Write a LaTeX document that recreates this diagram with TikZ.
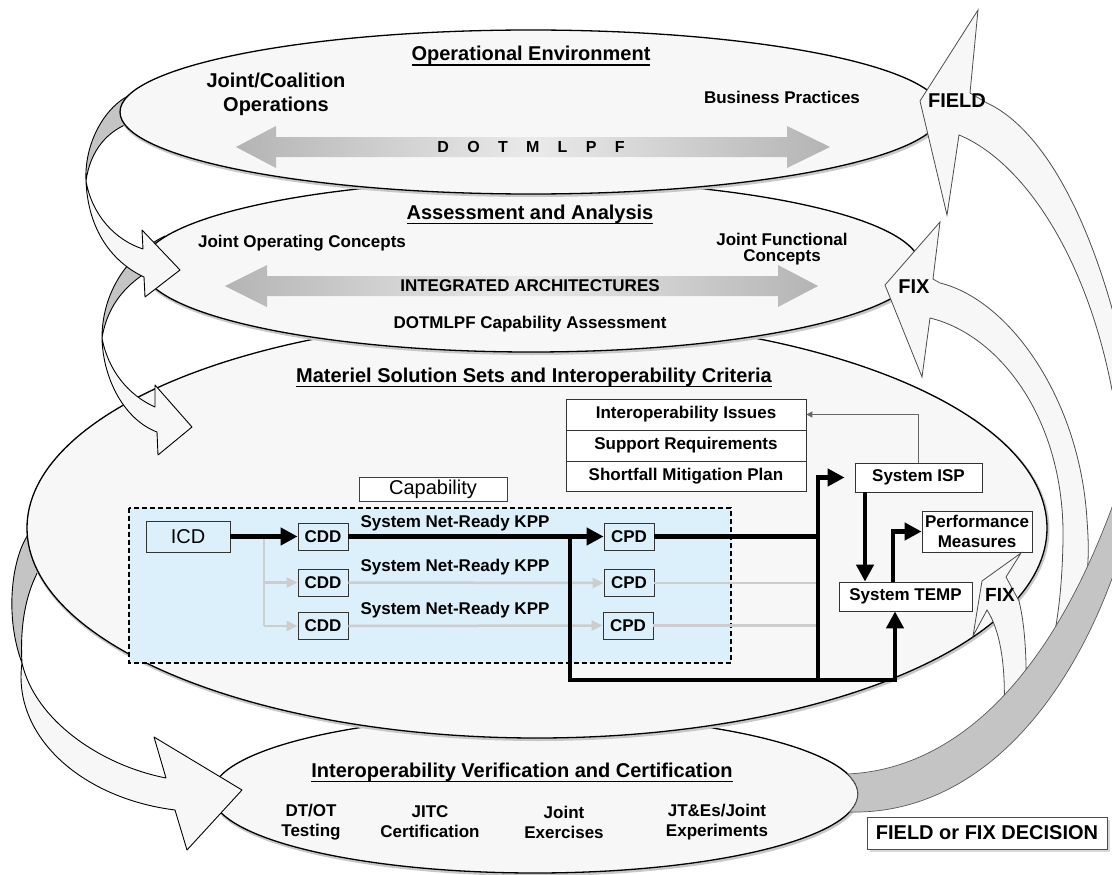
\documentclass[tikz,border=0pt]{standalone}
\usepackage{fontspec}
\setmainfont{Liberation Sans}
\usetikzlibrary{arrows.meta,shadows}
\definecolor{ellfill}{RGB}{247,247,247}
\definecolor{capblue}{RGB}{220,240,252}
\definecolor{backgray}{RGB}{196,196,196}
\definecolor{arrgray}{RGB}{180,180,180}
\definecolor{arrmid}{RGB}{234,234,234}
\definecolor{flowgray}{RGB}{205,205,205}
\definecolor{halo}{RGB}{200,200,200}
\newcommand\myul[1]{\setbox0=\hbox{#1}\rlap{\rule[-5pt]{\wd0}{1.5pt}}\box0}
\begin{document}
\begin{tikzpicture}[x=1pt,y=-1pt,
  ell/.style={fill=ellfill, draw=black, line width=1.3pt},
  ellhalo/.style={draw=halo, line width=3pt},
  ribbon/.style={fill=ellfill, draw=black, line width=0.9pt, line join=round},
  ribback/.style={fill=backgray, draw=black, line width=0.9pt, line join=round},
  rarrow/.style={fill=ellfill, draw=black!70, line width=0.8pt},
  bandstyle/.style={fill=backgray, draw=black!65, line width=0.7pt},
  dbarrow/.style={left color=arrgray, right color=arrgray, middle color=arrmid},
  ttl/.style={font=\bfseries\fontsize{20}{24}\selectfont, inner sep=0pt, align=center},
  lbl/.style={font=\bfseries\fontsize{17}{20}\selectfont, inner sep=0pt, align=center},
  plainbox/.style={draw=black!75, fill=white, line width=0.8pt, inner sep=0pt, font=\fontsize{20}{22}\selectfont},
  docbox/.style={draw=black!80, fill=capblue, line width=0.8pt, inner sep=0pt, minimum width=50pt, minimum height=27pt, font=\bfseries\fontsize{17}{20}\selectfont},
  wbox/.style={draw=black!80, fill=white, line width=0.8pt, inner sep=0pt, align=center, font=\bfseries\fontsize{17}{20}\selectfont},
  stackbox/.style={wbox, minimum width=240pt},
  decbox/.style={draw=black!70, fill=white, line width=0.8pt, inner sep=0pt, minimum width=240pt, minimum height=32pt, font=\bfseries\fontsize{20}{22}\selectfont, drop shadow={shadow xshift=2.5pt, shadow yshift=-2.5pt, fill=black!30}},
  mainline/.style={line width=4.5pt},
  mainflow/.style={line width=4.5pt, -{Triangle[length=17pt,width=17pt]}},
  grayline/.style={draw=flowgray, line width=2.5pt},
  grayflow/.style={draw=flowgray, line width=2.5pt, -{Triangle[length=11pt,width=10pt]}},
  thinflow/.style={draw=black!60, line width=1pt, -{Triangle[length=6pt,width=6pt]}}
]
\useasboundingbox (0,0) rectangle (1112,875);
\clip (0,0) rectangle (1112,875);

% ---- ellipse 4 and arrow C
\draw[ellhalo] (536,795.5) ellipse [x radius=323, y radius=79];
\draw[ell] (535,794) ellipse [x radius=323, y radius=79];
\draw[ribback] (30,532) .. controls (12,555) and (4,615) .. (22,663) .. controls (20,630) and (24,590) .. (45,560) -- cycle;
\draw[ribbon] (22,663) .. controls (35,720) and (100,765) .. (166,778) -- (154,737) -- (242,790) -- (187,850) -- (175,810) .. controls (80,798) and (12,735) .. (22,663) -- cycle;

% ---- ellipse 3 and arrow B
\draw[ellhalo] (538,529.5) ellipse [x radius=510, y radius=210];
\draw[ell] (537,528) ellipse [x radius=510, y radius=210];
\draw[ribback] (165,236) .. controls (128,254) and (102,292) .. (102,338) .. controls (108,302) and (130,276) .. (175,258) -- cycle;
\draw[ribbon] (102,338) .. controls (108,370) and (128,395) .. (155,407) -- (155,385) -- (192,427) -- (158,455) -- (157,432) .. controls (125,420) and (103,380) .. (102,338) -- cycle;

% ---- ellipse 2 and arrow A
\draw[ellhalo] (532,267.5) ellipse [x radius=389, y radius=86];
\draw[ell] (531,266) ellipse [x radius=389, y radius=86];
\draw[ribback] (135,93) .. controls (108,102) and (84,140) .. (86,181) .. controls (90,152) and (106,130) .. (135,121) -- cycle;
\draw[ribbon] (86,181) .. controls (92,215) and (115,240) .. (143,249) -- (142,230) -- (180,270) -- (145,297) -- (144,277) .. controls (112,262) and (88,230) .. (86,181) -- cycle;

% ---- ellipse 1
\draw[ellhalo] (532,113.5) ellipse [x radius=411, y radius=82];
\draw[ell] (531,112) ellipse [x radius=411, y radius=82];

% ---- double arrows
\shade[dbarrow] (236,147) -- (276,126) -- (276,137) -- (787,137) -- (787,126) -- (830,147) -- (787,168) -- (787,157) -- (276,157) -- (276,168) -- cycle;
\shade[dbarrow] (225,286) -- (267,265) -- (267,276) -- (778,276) -- (778,265) -- (818,286) -- (778,307) -- (778,296) -- (267,296) -- (267,307) -- cycle;

% ---- capability area
\draw[fill=capblue, line width=1.5pt, dash pattern=on 5pt off 3pt] (129,508) rectangle (731,663);
\node[plainbox, minimum width=148pt, minimum height=24pt] (cap) at (433,489) {Capability};
\node[docbox, minimum width=84pt, minimum height=31pt, font=\fontsize{20}{22}\selectfont] (icd) at (188,536.5) {ICD};
\node[docbox] (cdd1) at (323,536.5) {CDD};
\node[docbox] (cdd2) at (323,582.5) {CDD};
\node[docbox] (cdd3) at (323,626) {CDD};
\node[docbox] (cpd1) at (629,536.5) {CPD};
\node[docbox] (cpd2) at (629,583) {CPD};
\node[docbox] (cpd3) at (628,625.5) {CPD};
\node[lbl] (kpp1) at (455,523) {System Net-Ready KPP};
\node[lbl] (kpp2) at (455,567) {System Net-Ready KPP};
\node[lbl] (kpp3) at (455,610) {System Net-Ready KPP};

\node[stackbox, minimum height=31pt] (ii) at (686,414.5) {Interoperability Issues};
\node[stackbox, minimum height=31pt] (sr) at (686,445.5) {Support Requirements};
\node[stackbox, minimum height=30pt] (smp) at (686,476) {Shortfall Mitigation Plan};
\node[wbox, minimum width=127pt, minimum height=29pt] (isp) at (918.5,477.5) {System ISP};
\node[wbox, minimum width=133pt, minimum height=29pt] (temp) at (905.5,596.5) {System TEMP};
\node[wbox, minimum width=110pt, minimum height=41pt] (perf) at (977,531.5) {Performance\\Measures};

% ---- connectors
\coordinate (gtop) at (264,536.5);
\coordinate (gmid) at (264,582.5);
\coordinate (gbot) at (264,626);
\coordinate (vx) at (818,0);
\coordinate (dx) at (570,0);
\coordinate (bx) at (895,0);
\coordinate (ix) at (865,0);
\coordinate (px) at (893,0);
\coordinate (tx) at (918,0);
\coordinate (by) at (0,680);

\draw[grayline] (gtop) -- (gbot);
\draw[grayflow] (gmid) -- (cdd2.west);
\draw[grayflow] (gbot) -- (cdd3.west);
\draw[grayflow] (cdd2.east) -- (cpd2.west);
\draw[grayflow] (cdd3.east) -- (cpd3.west);
\draw[grayline] (cpd2.east) -- (cpd2.east -| vx);
\draw[grayline] (cpd3.east) -- (cpd3.east -| vx);

\draw[mainflow] (icd.east) -- (cdd1.west);
\draw[mainflow] (cdd1.east) -- (cpd1.west);
\draw[mainline] (cpd1.east) -- (cpd1.east -| vx);
\draw[mainflow] (cdd1.east -| dx) -- (dx |- by) -- (bx |- by) -- (temp.south -| bx);
\draw[mainflow, shorten >=10pt] (vx |- by) -- (vx |- isp.west) -- (isp.west);
\draw[mainflow] (isp.south -| ix) -- (temp.north -| ix);
\draw[mainflow] (temp.north -| px) -- (px |- perf.west) -- (perf.west);
\draw[thinflow] (isp.north -| tx) |- (ii.east);

% ---- right side arrows
\draw[rarrow] (978,10) -- (920,101) -- (947,215) -- (959,135) .. controls (1020,160) and (1085,250) .. (1112,390) -- (1140,420) -- (1140,340) -- (1125,360) .. controls (1095,225) and (1045,130) .. (987,103) -- (970,93) -- cycle;
\draw[rarrow] (940,222) -- (885,285) -- (922,377) -- (930,318) .. controls (1000,335) and (1065,420) .. (1063,540) .. controls (1062,600) and (1055,640) .. (1045,672) -- (1078,615) .. controls (1088,580) and (1090,560) .. (1087,520) .. controls (1080,400) and (1010,300) .. (940,283) -- (933,279) -- cycle;
\draw[rarrow] (1021,553) -- (982,581) -- (973,636) -- (987,610) .. controls (1000,630) and (1006,665) .. (1004,712) -- (1026,700) .. controls (1027,660) and (1025,625) .. (1019,601) -- (1006,577) -- cycle;
\draw[bandstyle] (847.4,774) .. controls (940,770) and (1050,700) .. (1125,470) -- (1125,540) .. controls (1075,705) and (975,815) .. (849.5,812) arc[start angle=13.2, end angle=-14.7, x radius=323, y radius=79] -- cycle;

% ---- texts
\node[ttl, anchor=base] (oe) at (531,61) {\myul{Operational Environment}};
\node[ttl] (jco) at (276,94) {Joint/Coalition\\Operations};
\node[lbl] (bp) at (782,97) {Business Practices};
\node[font=\bfseries\fontsize{16}{18}\selectfont, inner sep=0pt] (dot) at (531,147) {D\hspace{18.3pt}O\hspace{18.3pt}T\hspace{18.3pt}M\hspace{18.3pt}L\hspace{18.3pt}P\hspace{18.3pt}F};
\node[ttl, anchor=base] (aa) at (530,219) {\myul{Assessment and Analysis}};
\node[lbl] (joc) at (302,243) {Joint Operating Concepts};
\node[lbl, font=\bfseries\fontsize{17}{16}\selectfont] (jfc) at (782,249) {Joint Functional\\Concepts};
\node[lbl] (ia) at (530,286) {INTEGRATED ARCHITECTURES};
\node[lbl] (dca) at (530,324) {DOTMLPF Capability Assessment};
\node[ttl, anchor=base] (ms) at (534,382) {\myul{Materiel Solution Sets and Interoperability Criteria}};
\node[ttl, anchor=base] (ivc) at (522,777) {\myul{Interoperability Verification and Certification}};
\node[lbl] (dtot) at (311,822) {DT/OT\\Testing};
\node[lbl] (jitc) at (430,822) {JITC\\Certification};
\node[lbl] (je) at (564,822) {Joint\\Exercises};
\node[lbl] (jte) at (717,822) {JT\&Es/Joint\\Experiments};
\node[ttl] (field) at (957,101) {FIELD};
\node[ttl] (fix1) at (914,287) {FIX};
\node[ttl, font=\bfseries\fontsize{19}{22}\selectfont] (fix2) at (1000,595) {FIX};
\node[decbox] (ffd) at (987,833) {FIELD or FIX DECISION};
\end{tikzpicture}
\end{document}
